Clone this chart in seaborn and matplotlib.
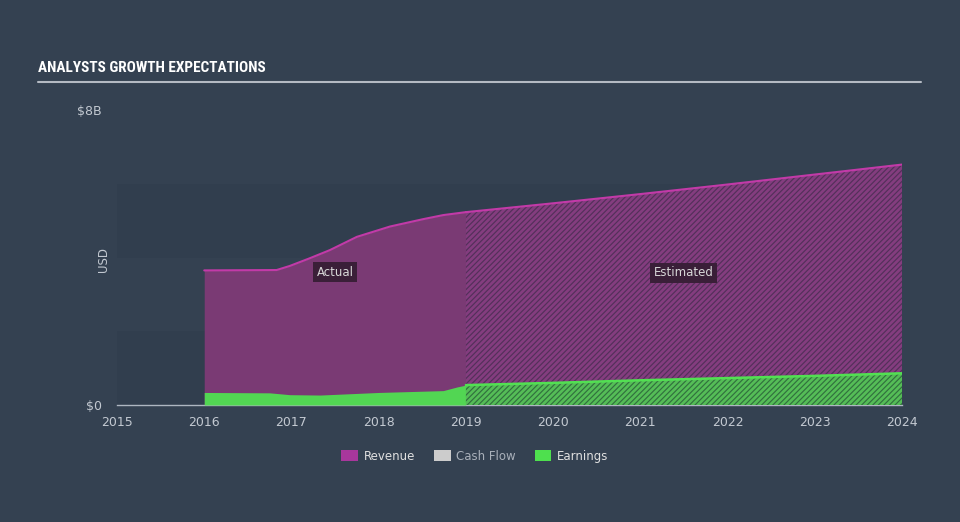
import matplotlib
matplotlib.use("Agg")
import matplotlib.pyplot as plt
from matplotlib.patches import Patch
from matplotlib import font_manager
import seaborn as sns
import pandas as pd

# ---- data (USD billions) ----
rev_act_years = [2016.0, 2016.83, 2016.98, 2017.2, 2017.44, 2017.75, 2018.13, 2018.51, 2018.74, 2019.0]
rev_act_vals = [3.65, 3.66, 3.77, 3.97, 4.20, 4.56, 4.84, 5.04, 5.15, 5.23]
rev_est_years = [2019, 2020, 2021, 2022, 2023, 2024]
rev_est_vals = [5.23, 5.47, 5.72, 5.98, 6.25, 6.52]

earn_act_years = [2016.0, 2016.75, 2016.98, 2017.33, 2018.0, 2018.74, 2018.9, 2019.0]
earn_act_vals = [0.34, 0.33, 0.28, 0.27, 0.34, 0.39, 0.49, 0.54]
earn_est_years = [2019, 2020, 2021, 2022, 2023, 2024]
earn_est_vals = [0.54, 0.60, 0.67, 0.73, 0.79, 0.86]

x_ticks = list(range(2015, 2025))
y_ticks = [0, 8]
y_tick_labels = ["$0", "$8B"]
legend_labels = ["Revenue", "Cash Flow", "Earnings"]

BG = "#344151"
BAND = "#313e4e"
REV_FILL = "#7a3a74"
REV_LINE = "#c23aa8"
REV_EST_FILL = "#843d7f"
REV_HATCH = "#53305a"
EARN_FILL = "#52d653"
EARN_LINE = "#52e052"
EARN_EST_FILL = "#55bd57"
EARN_HATCH = "#31703e"
TXT = "#c3c9d1"

sns.set_theme(style="dark")
plt.rcParams["font.family"] = ["DejaVu Sans"]
plt.rcParams["hatch.linewidth"] = 0.85

names = {f.name for f in font_manager.fontManager.ttflist}
title_family = "DejaVu Sans"
for cand in ["Roboto Condensed", "Liberation Sans Narrow", "Open Sans Condensed", "Roboto"]:
    if cand in names:
        title_family = cand
        break

fig = plt.figure(figsize=(9.6, 5.22), dpi=100, facecolor=BG)
ax = fig.add_axes([117/960, (522-405)/522, 785/960, 295/522])
ax.set_facecolor(BG)

ax.axhspan(0, 2, color=BAND, zorder=0, lw=0)
ax.axhspan(4, 6, color=BAND, zorder=0, lw=0)

df_ra = pd.DataFrame({"year": rev_act_years, "value": rev_act_vals})
df_re = pd.DataFrame({"year": rev_est_years, "value": rev_est_vals})
df_ea = pd.DataFrame({"year": earn_act_years, "value": earn_act_vals})
df_ee = pd.DataFrame({"year": earn_est_years, "value": earn_est_vals})

# revenue
ax.fill_between(df_ra["year"], 0, df_ra["value"], color=REV_FILL, lw=0, zorder=2)
ax.fill_between(df_re["year"], 0, df_re["value"], facecolor=REV_EST_FILL,
                edgecolor=REV_HATCH, hatch="//////", lw=0, zorder=2)
sns.lineplot(data=df_ra, x="year", y="value", color=REV_LINE, lw=1.5, ax=ax, zorder=4)
sns.lineplot(data=df_re, x="year", y="value", color=REV_LINE, lw=1.5, ax=ax, zorder=4)

# earnings
ax.fill_between(df_ea["year"], 0, df_ea["value"], color=EARN_FILL, lw=0, zorder=3)
ax.fill_between(df_ee["year"], 0, df_ee["value"], facecolor=EARN_EST_FILL,
                edgecolor=EARN_HATCH, hatch="//////", lw=0, zorder=3)
sns.lineplot(data=df_ee, x="year", y="value", color=EARN_LINE, lw=1.8, ax=ax, zorder=4)

ax.set_xlim(2015, 2024)
ax.set_ylim(0, 8)
ax.set_xlabel("")
ax.set_ylabel("")
ax.grid(False)
for s in ["top", "right", "left"]:
    ax.spines[s].set_visible(False)
ax.spines["bottom"].set_color("#aeb6c1")
ax.spines["bottom"].set_linewidth(1)
ax.set_xticks(x_ticks)
ax.set_xticklabels([str(t) for t in x_ticks])
ax.tick_params(axis="x", colors="#aeb6c1", length=6, width=1, direction="out",
               labelcolor=TXT, labelsize=9, pad=2)
ax.set_yticks(y_ticks)
ax.set_yticklabels(y_tick_labels)
ax.tick_params(axis="y", length=0, labelcolor=TXT, labelsize=9, pad=11)

fig.text(103/960, 1 - 260/522, "USD", rotation=90, color=TXT, fontsize=8.5,
         ha="center", va="center")

box = dict(boxstyle="square,pad=0.3", facecolor="#3a1f38", edgecolor="none")
ax.text(2017.5, 3.6, "Actual", color="#d8d8d8", fontsize=8.5, ha="center",
        va="center", bbox=box, zorder=6)
ax.text(2021.5, 3.58, "Estimated", color="#d8d8d8", fontsize=8.5, ha="center",
        va="center", bbox=box, zorder=6)

# title
fig.text(38/960, 1 - 68/522, "ANALYSTS GROWTH EXPECTATIONS", color="white",
         fontsize=11, fontweight="bold", family=title_family, ha="left", va="center")
fig.add_artist(plt.Line2D([38/960, 921/960], [1 - 81.5/522, 1 - 81.5/522],
                          color="#b4bac3", lw=1.5, transform=fig.transFigure))

handles = [Patch(facecolor="#a8379c", edgecolor="none"),
           Patch(facecolor="#cccccc", edgecolor="none"),
           Patch(facecolor="#4ee04e", edgecolor="none")]
leg = fig.legend(handles, legend_labels, loc="center", bbox_to_anchor=(475/960, 1 - 456/522),
                 ncol=3, frameon=False, fontsize=8.5, handlelength=1.4, handleheight=1.0,
                 columnspacing=1.6, handletextpad=0.5)
for t, c in zip(leg.get_texts(), ["#e0e0e0", "#a9b0ba", "#e0e0e0"]):
    t.set_color(c)

fig.savefig("out.png", dpi=100, facecolor=BG)
